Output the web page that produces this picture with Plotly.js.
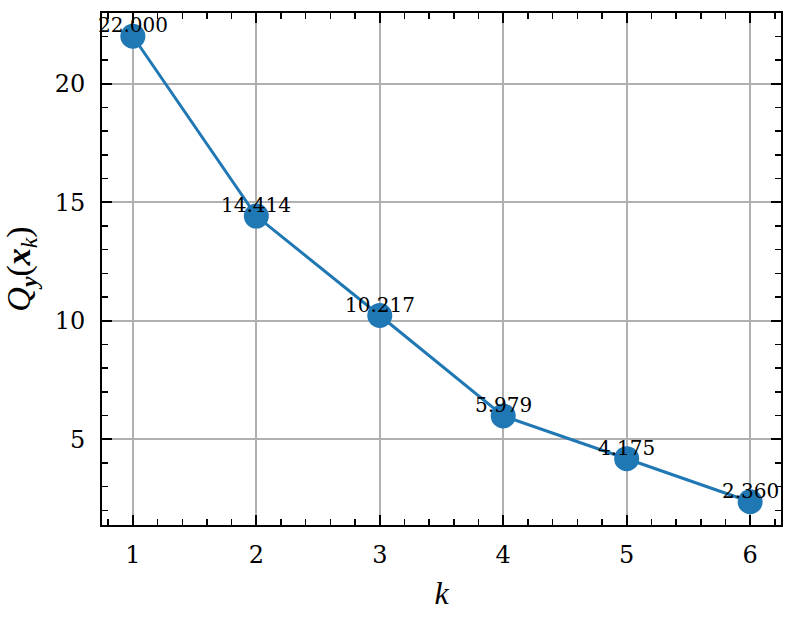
<!DOCTYPE html>
<html>
<head>
<meta charset="utf-8">
<script src="https://cdn.plot.ly/plotly-3.0.1.min.js"></script>
<style>html,body{margin:0;padding:0;background:#fff;}#chart{width:795px;height:618px;}</style>
</head>
<body>
<div id="chart"></div>
<script>
const kValues = [1, 2, 3, 4, 5, 6];
const qValues = [22.000, 14.414, 10.217, 5.979, 4.175, 2.360];
const yTickValues = [5, 10, 15, 20];
const xTickValues = [1, 2, 3, 4, 5, 6];

const blue = '#1f77b4';
const serifFam = '"DejaVu Serif", serif';
const titleFam = '"Liberation Serif", "DejaVu Serif", serif';
const tickFont = {family: serifFam, size: 24, color: '#000'};

const trace = {
  x: kValues,
  y: qValues,
  type: 'scatter',
  mode: 'lines+markers',
  line: {color: blue, width: 3},
  marker: {color: blue, size: 25},
  hoverinfo: 'skip'
};

const annotations = kValues.map((k, i) => ({
  x: k, y: qValues[i], xref: 'x', yref: 'y',
  text: qValues[i].toFixed(3),
  showarrow: false,
  xanchor: 'center', yanchor: 'bottom',
  yshift: -3,
  font: {family: serifFam, size: 20, color: '#000'}
}));

const axisCommon = {
  showline: true, linecolor: '#000', linewidth: 2,
  mirror: 'allticks',
  ticks: 'inside', ticklen: 10, tickwidth: 1.8, tickcolor: '#000',
  showgrid: true, gridcolor: '#b0b0b0', gridwidth: 2,
  zeroline: false,
  tickfont: tickFont
};

const layout = {
  width: 795, height: 618,
  margin: {l: 102, r: 14, t: 13, b: 93},
  paper_bgcolor: '#fff', plot_bgcolor: '#fff',
  showlegend: false,
  font: {family: serifFam, color: '#000'},
  xaxis: Object.assign({}, axisCommon, {
    range: [0.75, 6.25],
    tickmode: 'array', tickvals: xTickValues, ticktext: xTickValues.map(String),
    ticklabelstandoff: 7,
    minor: {dtick: 0.2, tick0: 0, ticks: 'inside', ticklen: 6, tickwidth: 1.5, tickcolor: '#000', showgrid: false},
    title: {text: '<i>k</i>', font: {family: titleFam, size: 32, color: '#000'}, standoff: 14}
  }),
  yaxis: Object.assign({}, axisCommon, {
    range: [1.378, 22.982],
    tickmode: 'array', tickvals: yTickValues, ticktext: yTickValues.map(String),
    ticklabelstandoff: 10,
    minor: {dtick: 1, tick0: 0, ticks: 'inside', ticklen: 6, tickwidth: 1.5, tickcolor: '#000', showgrid: false},
    title: {text: '<i>Q</i><sub><b><i>y</i></b></sub>(<b><i>x</i></b><sub><i>k</i></sub>)', font: {family: titleFam, size: 34, color: '#000'}, standoff: 14}
  }),
  annotations: annotations
};

Plotly.newPlot('chart', [trace], layout, {staticPlot: true, displayModeBar: false});
</script>
</body>
</html>
